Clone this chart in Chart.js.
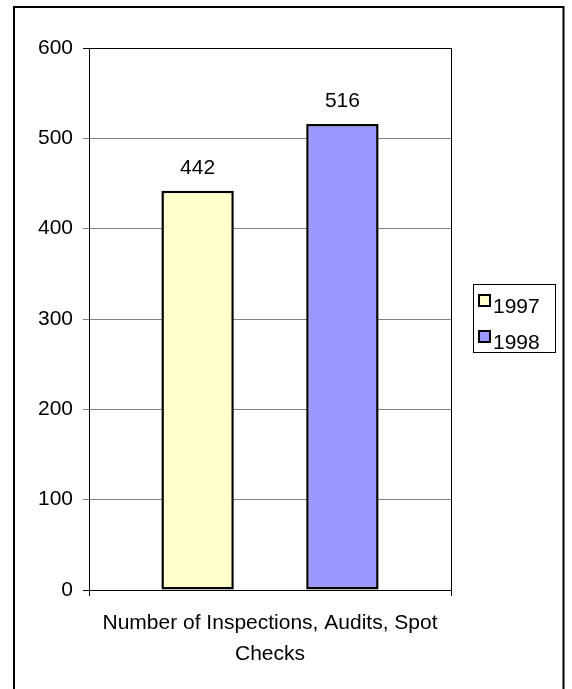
<!DOCTYPE html>
<html>
<head>
<meta charset="utf-8">
<script src="https://cdn.jsdelivr.net/npm/chart.js@4/dist/chart.umd.min.js"></script>
<style>
	html, body { margin: 0; padding: 0; background: #fff; }
	#wrap { width: 572px; height: 689px; }
</style>
</head>
<body>
<div id="wrap"><canvas id="inspections"></canvas></div>
<script>
// chart data
var categories = [["Number of Inspections, Audits, Spot", "Checks"]];
var seriesNames = ["1997", "1998"];
var values1997 = [442];
var values1998 = [516];
var yTicks = [0, 100, 200, 300, 400, 500, 600];

var fontFamily = "'Liberation Sans', Arial, sans-serif";

// outer frame round the whole chart
var framePlugin = {
	id: "frame",
	afterDraw: function(chart){
		var ctx = chart.ctx;
		ctx.save();
		ctx.strokeStyle = "#000";
		ctx.lineWidth = 2;
		ctx.strokeRect(14, 7, 549.5, 720);
		ctx.restore();
	}
};

// value on top of each bar
var valueLabels = {
	id: "valueLabels",
	afterDatasetsDraw: function(chart){
		var ctx = chart.ctx;
		ctx.save();
		ctx.font = "21px " + fontFamily;
		ctx.fillStyle = "#000";
		ctx.textAlign = "center";
		ctx.textBaseline = "middle";
		chart.data.datasets.forEach(function(ds, i){
			var meta = chart.getDatasetMeta(i);
			meta.data.forEach(function(bar, j){
				ctx.fillText(String(ds.data[j]), bar.x, bar.y - 23);
			});
		});
		ctx.restore();
	}
};

// boxed legend to the right of the plot
var boxLegend = {
	id: "boxLegend",
	afterDraw: function(chart){
		var ctx = chart.ctx;
		ctx.save();
		ctx.strokeStyle = "#000";
		ctx.lineWidth = 1;
		ctx.strokeRect(473.5, 284.5, 82, 68);
		ctx.font = "21px " + fontFamily;
		ctx.textAlign = "left";
		ctx.textBaseline = "middle";
		chart.data.datasets.forEach(function(ds, i){
			var cy = 306 + i * 36;
			ctx.fillStyle = ds.backgroundColor;
			ctx.fillRect(479, cy - 11, 11, 11);
			ctx.lineWidth = 2;
			ctx.strokeRect(479, cy - 11, 11, 11);
			ctx.fillStyle = "#000";
			ctx.fillText(ds.label, 493, cy + 1);
		});
		ctx.restore();
	}
};

var ctx = document.getElementById("inspections");
var chart = new Chart(ctx, {
	type: "bar",
	data: {
		labels: categories,
		datasets: [{
			label: seriesNames[0],
			data: values1997,
			backgroundColor: "#FFFFCC",
			borderColor: "#000",
			borderWidth: 2.5,
			borderSkipped: false
		}, {
			label: seriesNames[1],
			data: values1998,
			backgroundColor: "#9999FF",
			borderColor: "#000",
			borderWidth: 2.5,
			borderSkipped: false
		}]
	},
	options: {
		responsive: true,
		maintainAspectRatio: false,
		animation: false,
		events: [],
		categoryPercentage: 0.8,
		barPercentage: 0.5,
		layout: {
			padding: { left: 0, top: 48, right: 121, bottom: 0 }
		},
		plugins: {
			legend: { display: false },
			tooltip: { enabled: false }
		},
		scales: {
			x: {
				offset: true,
				grid: {
					offset: true,
					color: "#000",
					lineWidth: 1,
					tickLength: 6
				},
				border: { color: "#000", width: 1 },
				ticks: {
					color: "#000",
					padding: 11,
					maxRotation: 0,
					font: { family: fontFamily, size: 21, lineHeight: 1.5 }
				},
				afterFit: function(scale){ scale.height = 99; }
			},
			y: {
				min: 0,
				max: 600,
				afterBuildTicks: function(scale){
					scale.ticks = yTicks.map(function(v){ return { value: v }; });
				},
				grid: {
					color: function(c){
						return (c.tick && (c.tick.value === 600 || c.tick.value === 0)) ? "#000" : "#808080";
					},
					lineWidth: 1,
					tickLength: 6
				},
				border: { color: "#000", width: 1 },
				ticks: {
					color: "#000",
					padding: 10,
					font: { family: fontFamily, size: 21 }
				},
				afterFit: function(scale){ scale.width = 89; }
			}
		}
	},
	plugins: [framePlugin, valueLabels, boxLegend]
});
</script>
</body>
</html>
